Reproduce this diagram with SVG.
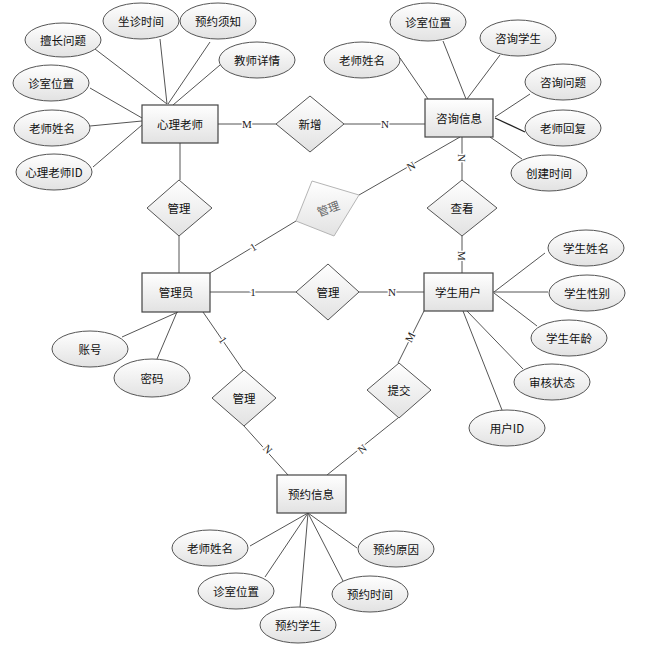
<svg xmlns="http://www.w3.org/2000/svg" width="646" height="653" viewBox="0 0 646 653">
<defs>
<linearGradient id="g" x1="0" y1="0" x2="0" y2="1"><stop offset="0" stop-color="#ffffff"/><stop offset="1" stop-color="#e2e2e2"/></linearGradient>
<style>
.e{fill:url(#g);stroke:#555;stroke-width:1}
.r{fill:url(#g);stroke:#444;stroke-width:1.2}
.d{fill:url(#g);stroke:#555;stroke-width:1}
.dg{fill:url(#g);stroke:#b5b5b5;stroke-width:1}
.t{font-family:"Noto Sans CJK SC","Microsoft YaHei",sans-serif;font-size:11.5px;fill:#111;text-anchor:middle;dominant-baseline:central}
.tg{font-family:"Noto Sans CJK SC",sans-serif;font-size:11.5px;fill:#666;text-anchor:middle;dominant-baseline:central}
.l{font-family:"Liberation Serif",serif;font-size:11px;fill:#222;text-anchor:middle;dominant-baseline:central;stroke:#fff;stroke-width:3px;paint-order:stroke}
#c line{stroke:#555;stroke-width:1}
</style>
</defs>
<rect width="646" height="653" fill="#fff"/>
<g id="c">
<line x1="95" y1="49" x2="167" y2="104"/>
<line x1="160" y1="39" x2="167" y2="104"/>
<line x1="210" y1="42" x2="168" y2="104"/>
<line x1="220" y1="65" x2="173" y2="105"/>
<line x1="90" y1="88" x2="142" y2="118"/>
<line x1="90" y1="126" x2="142" y2="121"/>
<line x1="93" y1="167" x2="142" y2="125"/>
<line x1="218" y1="124" x2="276" y2="124"/>
<line x1="180" y1="143" x2="180" y2="180"/>
<line x1="400" y1="58" x2="428" y2="99"/>
<line x1="443" y1="41" x2="466" y2="99"/>
<line x1="500" y1="55" x2="467" y2="99"/>
<line x1="530" y1="94" x2="495" y2="117"/>
<line x1="525" y1="132" x2="495" y2="118" style="stroke:#222;stroke-width:1.3"/>
<line x1="522" y1="159" x2="490" y2="137"/>
<line x1="344" y1="124" x2="425" y2="124"/>
<line x1="462" y1="137" x2="462" y2="180"/>
<line x1="460" y1="137" x2="359" y2="195"/>
<line x1="296" y1="221" x2="210" y2="273"/>
<line x1="179" y1="236" x2="179" y2="273"/>
<line x1="210" y1="292" x2="296" y2="292"/>
<line x1="359" y1="292" x2="424" y2="292"/>
<line x1="462" y1="236" x2="462" y2="273"/>
<line x1="122" y1="337" x2="178" y2="312"/>
<line x1="157" y1="359" x2="177" y2="312"/>
<line x1="203" y1="312" x2="243" y2="370"/>
<line x1="244" y1="426" x2="288" y2="475"/>
<line x1="545" y1="253" x2="494" y2="292"/>
<line x1="548" y1="292" x2="493" y2="292"/>
<line x1="537" y1="326" x2="494" y2="293"/>
<line x1="467" y1="311" x2="523" y2="369"/>
<line x1="463" y1="311" x2="502" y2="410"/>
<line x1="398" y1="363" x2="424" y2="311"/>
<line x1="398" y1="418" x2="327" y2="475"/>
<line x1="308" y1="513" x2="250" y2="546"/>
<line x1="308" y1="513" x2="265" y2="577"/>
<line x1="308" y1="513" x2="300" y2="607"/>
<line x1="308" y1="513" x2="343" y2="581"/>
<line x1="308" y1="513" x2="357" y2="548"/>
<text class="l" x="247" y="124">M</text>
<text class="l" x="385" y="124">N</text>
<text class="l" transform="translate(462,158) rotate(90)">N</text>
<text class="l" transform="translate(411,166) rotate(-30)">N</text>
<text class="l" transform="translate(253,247) rotate(-31)">1</text>
<text class="l" x="253" y="292">1</text>
<text class="l" x="392" y="292">N</text>
<text class="l" transform="translate(462,256) rotate(90)">M</text>
<text class="l" transform="translate(223,340) rotate(55)">1</text>
<text class="l" transform="translate(268,449) rotate(48)">N</text>
<text class="l" transform="translate(410,337) rotate(-63)">M</text>
<text class="l" transform="translate(362,449) rotate(-39)">N</text>
</g>
<g id="e-teacher"><rect class="r" x="142" y="105" width="76" height="38"/><text class="t" x="180" y="124">心理老师</text></g>
<g id="e-consult"><rect class="r" x="425" y="99" width="68" height="38"/><text class="t" x="459" y="118">咨询信息</text></g>
<g id="e-admin"><rect class="r" x="142" y="273" width="68" height="39"/><text class="t" x="176" y="292">管理员</text></g>
<g id="e-student"><rect class="r" x="424" y="273" width="69" height="38"/><text class="t" x="458" y="292">学生用户</text></g>
<g id="e-appoint"><rect class="r" x="277" y="475" width="69" height="38"/><text class="t" x="311" y="494">预约信息</text></g>
<g id="r-add"><polygon class="d" points="310,96 344,124 310,152 276,124"/><text class="t" x="310" y="124">新增</text></g>
<g id="r-manage1"><polygon class="d" points="179,180 212,208 179,236 147,208"/><text class="t" x="179" y="208">管理</text></g>
<g id="r-manage2"><polygon class="dg" points="312,181 359,195 334,236 296,221"/><text class="tg" transform="translate(328,208) rotate(-20)">管理</text></g>
<g id="r-view"><polygon class="d" points="462,180 497,208 462,236 427,208"/><text class="t" x="462" y="208">查看</text></g>
<g id="r-manage3"><polygon class="d" points="328,264 359,292 328,320 296,292"/><text class="t" x="328" y="292">管理</text></g>
<g id="r-manage4"><polygon class="d" points="244,370 276,398 244,426 212,398"/><text class="t" x="244" y="398">管理</text></g>
<g id="r-submit"><polygon class="d" points="399,363 431,390 399,418 367,390"/><text class="t" x="399" y="390">提交</text></g>
<g id="a1"><ellipse class="e" cx="63" cy="40" rx="38" ry="17"/><text class="t" x="63" y="40">擅长问题</text></g>
<g id="a2"><ellipse class="e" cx="141" cy="21" rx="38" ry="18"/><text class="t" x="141" y="21">坐诊时间</text></g>
<g id="a3"><ellipse class="e" cx="218" cy="21" rx="38" ry="18"/><text class="t" x="218" y="21">预约须知</text></g>
<g id="a4"><ellipse class="e" cx="257" cy="60" rx="38" ry="18"/><text class="t" x="257" y="60">教师详情</text></g>
<g id="a5"><ellipse class="e" cx="51" cy="83" rx="38" ry="18"/><text class="t" x="51" y="83">诊室位置</text></g>
<g id="a6"><ellipse class="e" cx="52" cy="128" rx="38" ry="18"/><text class="t" x="52" y="128">老师姓名</text></g>
<g id="a7"><ellipse class="e" cx="54" cy="172" rx="38" ry="18"/><text class="t" x="54" y="172">心理老师ID</text></g>
<g id="b1"><ellipse class="e" cx="428" cy="22" rx="38" ry="19"/><text class="t" x="428" y="22">诊室位置</text></g>
<g id="b2"><ellipse class="e" cx="518" cy="38" rx="38" ry="18"/><text class="t" x="518" y="38">咨询学生</text></g>
<g id="b3"><ellipse class="e" cx="362" cy="60" rx="38" ry="18"/><text class="t" x="362" y="60">老师姓名</text></g>
<g id="b4"><ellipse class="e" cx="563" cy="82" rx="38" ry="18"/><text class="t" x="563" y="82">咨询问题</text></g>
<g id="b5"><ellipse class="e" cx="563" cy="128" rx="38" ry="18"/><text class="t" x="563" y="128">老师回复</text></g>
<g id="b6"><ellipse class="e" cx="549" cy="173" rx="38" ry="18"/><text class="t" x="549" y="173">创建时间</text></g>
<g id="c1"><ellipse class="e" cx="90" cy="349" rx="38" ry="18"/><text class="t" x="90" y="349">账号</text></g>
<g id="c2"><ellipse class="e" cx="152" cy="378" rx="38" ry="19"/><text class="t" x="152" y="378">密码</text></g>
<g id="d1"><ellipse class="e" cx="586" cy="248" rx="38" ry="18"/><text class="t" x="586" y="248">学生姓名</text></g>
<g id="d2"><ellipse class="e" cx="587" cy="293" rx="38" ry="18"/><text class="t" x="587" y="293">学生性别</text></g>
<g id="d3"><ellipse class="e" cx="569" cy="338" rx="38" ry="18"/><text class="t" x="569" y="338">学生年龄</text></g>
<g id="d4"><ellipse class="e" cx="552" cy="382" rx="38" ry="18"/><text class="t" x="552" y="382">审核状态</text></g>
<g id="d5"><ellipse class="e" cx="507" cy="428" rx="38" ry="18"/><text class="t" x="507" y="428">用户ID</text></g>
<g id="f1"><ellipse class="e" cx="210" cy="548" rx="38" ry="18"/><text class="t" x="210" y="548">老师姓名</text></g>
<g id="f2"><ellipse class="e" cx="236" cy="591" rx="38" ry="18"/><text class="t" x="236" y="591">诊室位置</text></g>
<g id="f3"><ellipse class="e" cx="298" cy="625" rx="38" ry="18"/><text class="t" x="298" y="625">预约学生</text></g>
<g id="f4"><ellipse class="e" cx="370" cy="594" rx="38" ry="18"/><text class="t" x="370" y="594">预约时间</text></g>
<g id="f5"><ellipse class="e" cx="396" cy="549" rx="38" ry="18"/><text class="t" x="396" y="549">预约原因</text></g>
</svg>
